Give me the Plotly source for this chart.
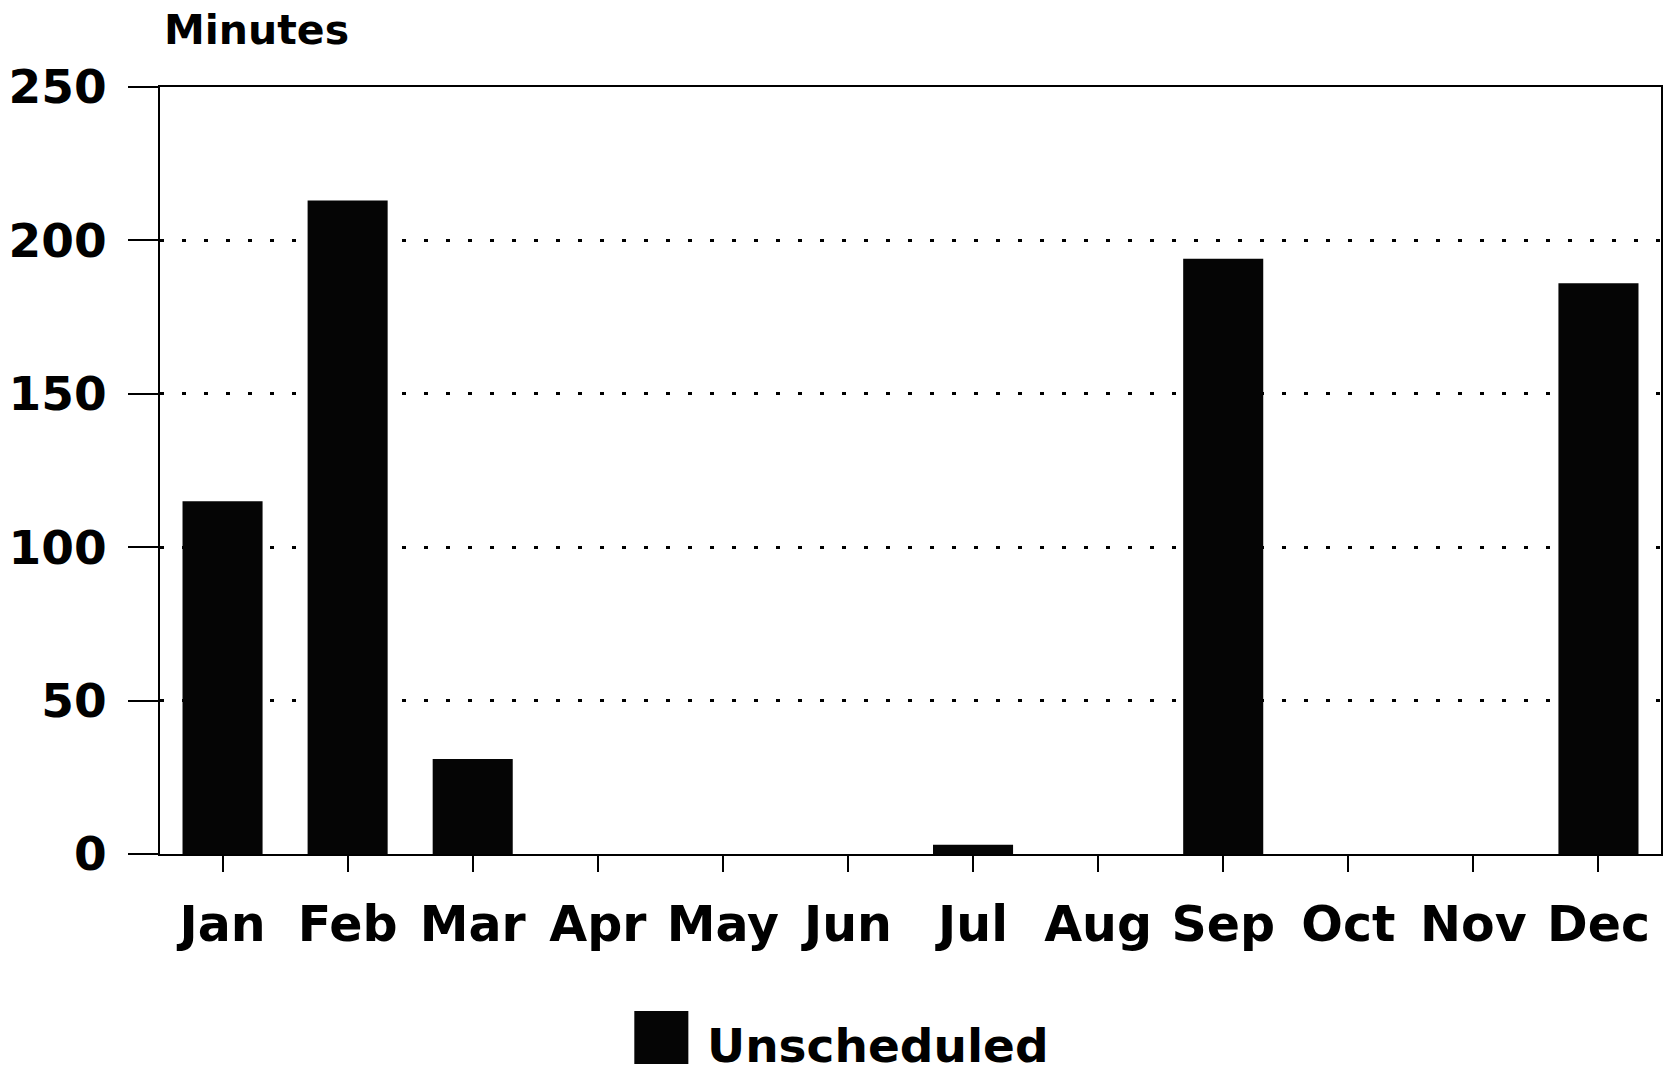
import plotly.graph_objects as go

months = ["Jan", "Feb", "Mar", "Apr", "May", "Jun", "Jul", "Aug", "Sep", "Oct", "Nov", "Dec"]
unscheduled = [115, 213, 31, 0, 0, 0, 3, 0, 194, 0, 0, 186]
y_ticks = [0, 50, 100, 150, 200, 250]
series_name = "Unscheduled"
y_title = "Minutes"

FONT = "DejaVu Sans"

fig = go.Figure()
fig.add_trace(go.Bar(
    x=months, y=unscheduled, name=series_name,
    marker=dict(color="#050505", line=dict(width=0)),
    showlegend=False,
))

fig.update_layout(
    width=1668, height=1079,
    margin=dict(l=160, r=5, t=87, b=225),
    paper_bgcolor="white", plot_bgcolor="white",
    bargap=0.36,
    font=dict(family=FONT, color="black"),
    showlegend=False,
)

fig.update_xaxes(
    type="category",
    showline=True, linecolor="black", linewidth=2, mirror=True,
    ticks="outside", ticklen=16, tickwidth=2, tickcolor="black",
    tickfont=dict(family=FONT, size=49, color="black", weight="bold"),
    ticklabelstandoff=10,
    showgrid=False,
)
fig.update_yaxes(
    range=[0, 250], tickvals=y_ticks,
    showline=True, linecolor="black", linewidth=2, mirror=True,
    ticks="outside", ticklen=30, tickwidth=2, tickcolor="black",
    tickfont=dict(family=FONT, size=47, color="black", weight="bold"),
    ticklabelstandoff=12,
    showgrid=True, gridcolor="black", gridwidth=3, griddash="4px,18px",
    zeroline=False,
)

# Axis unit label
fig.add_annotation(
    text=y_title, xref="paper", yref="paper", x=0.0013, y=1.074,
    xanchor="left", yanchor="middle", showarrow=False,
    font=dict(family=FONT, size=41, color="black", weight="bold"),
)

# Legend (large swatch + label)
fig.add_shape(
    type="rect", xref="paper", yref="paper",
    x0=0.316, x1=0.352, y0=-0.2738, y1=-0.2047,
    fillcolor="#050505", line=dict(width=0),
)
fig.add_annotation(
    text=series_name, xref="paper", yref="paper", x=0.363, y=-0.250,
    xanchor="left", yanchor="middle", showarrow=False,
    font=dict(family=FONT, size=47, color="black", weight="bold"),
)

fig.write_html("out.html", config={"displayModeBar": False},
               post_script="document.body.style.margin='0';")
